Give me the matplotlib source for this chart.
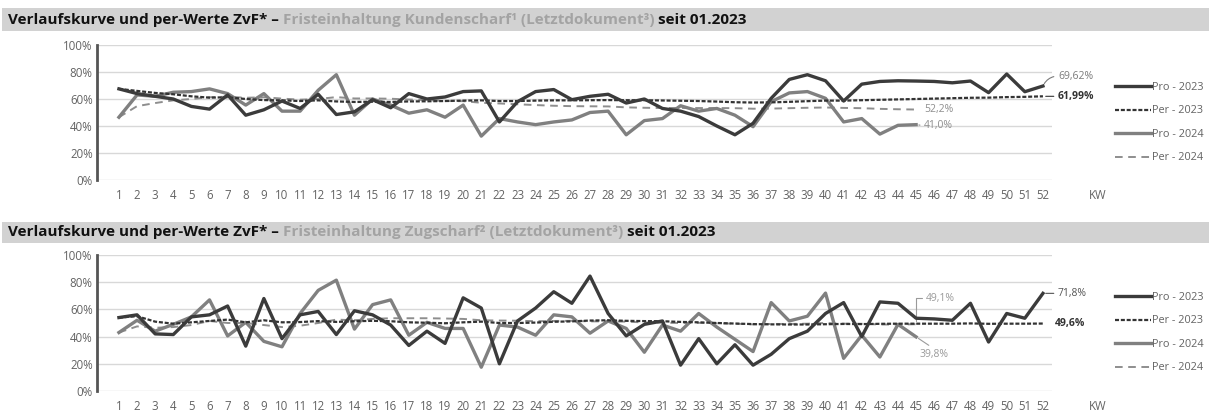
import matplotlib
matplotlib.use('Agg')
import matplotlib.pyplot as plt
from matplotlib import font_manager
from matplotlib.patches import Rectangle

def pick_font(cands):
    for c in cands:
        try:
            font_manager.findfont(font_manager.FontProperties(family=c), fallback_to_default=False)
            return c
        except Exception:
            pass
    return 'DejaVu Sans'

FONT = pick_font(['Open Sans', 'Liberation Sans'])
plt.rcParams['font.family'] = [FONT, 'DejaVu Sans']
plt.rcParams['lines.scale_dashes'] = False

# ---------------- data ----------------
weeks = list(range(1, 53))
week_labels = [str(w) for w in weeks]
weeks_2024 = list(range(1, 46))

# Fristeinhaltung Kundenscharf
pro23_k = [67.5, 64, 62, 60, 54.5, 52.5, 63, 48, 52, 58.5,
           53, 63.5, 48.5, 50.5, 59.5, 53.5, 64, 60, 61.5, 65.5,
           66, 43, 58, 65.5, 67, 59.5, 62, 63.5, 57, 60,
           53, 51, 47, 40, 33.5, 42, 60.5, 74.5, 78, 73.5,
           58.5, 71, 73, 73.5, 73.3, 73, 72, 73.3, 64.7, 78.5,
           65.4, 69.62]
per23_k = [67.5, 66, 64.5, 63.5, 62, 61, 61.3, 60, 59.2, 59,
           58.5, 59, 58.2, 57.8, 58, 57.8, 58.2, 58.3, 58.5, 58.8,
           59, 58.5, 58.5, 58.8, 59, 59, 59.1, 59.2, 59.1, 59.1,
           58.9, 58.7, 58.5, 58.1, 57.6, 57.4, 57.5, 57.9, 58.4, 58.8,
           58.8, 59.1, 59.4, 59.7, 60, 60.3, 60.6, 60.9, 61, 61.4,
           61.6, 61.99]
pro24_k = [46.5, 63, 62, 65, 65.5, 67.5, 64, 55.5, 64, 51,
           51, 66.5, 78, 48, 60, 55.5, 49.5, 52, 46.5, 55.5,
           32.5, 45.5, 43, 41, 43, 44.5, 50, 51, 33.5, 44,
           45.5, 55, 51, 53, 48, 39.5, 58, 64.5, 65.5, 60.5,
           43, 45.5, 34, 40.5, 41.0]
per24_k = [46.5, 54.7, 57, 59, 60, 61.3, 61.7, 60.9, 61.3, 60.3,
           59.5, 60, 61.4, 60.4, 60.4, 60.2, 59.6, 59.2, 58.5, 58.4,
           57.2, 56.7, 56.1, 55.5, 55, 54.7, 54.6, 54.5, 53.8, 53.5,
           53.3, 53.4, 53.3, 53.3, 53.2, 52.8, 52.9, 53.2, 53.5, 53.7,
           53.4, 53.2, 52.7, 52.4, 52.2]

# Fristeinhaltung Zugscharf
pro23_z = [54, 56, 42, 41.5, 54.5, 56, 62.5, 33, 68, 38.5,
           56, 58.5, 41.5, 59, 56, 48.5, 33.5, 44, 35, 68.5,
           61, 20, 51.5, 61, 73, 64.5, 84.5, 57, 40.5, 49,
           51.5, 19, 38.5, 20, 34, 19, 27, 38.5, 44, 57,
           65, 40, 65.5, 64.5, 53.5, 53, 52, 64.5, 36, 57,
           53.5, 71.8]
per23_z = [54, 55, 51, 49.5, 50.5, 51.5, 52.5, 50.5, 52, 50.5,
           50.7, 51.4, 50.8, 51.3, 51.6, 51.3, 50.5, 50.2, 49.8, 50.5,
           51, 50, 50, 50.3, 50.9, 51.2, 51.8, 52, 51.6, 51.4,
           51.3, 50.8, 50.5, 50, 49.6, 49.2, 49, 48.9, 48.9, 49.1,
           49.3, 49.2, 49.4, 49.5, 49.5, 49.5, 49.5, 49.7, 49.4, 49.5,
           49.5, 49.6]
pro24_z = [43, 52, 44, 49, 54.5, 67, 40.5, 50.5, 36.5, 32.5,
           57, 74, 81.5, 45.5, 63.5, 67, 41, 50.5, 46, 46,
           17.5, 48.5, 47, 41, 56, 54.5, 42.5, 51.5, 46, 28.5,
           48.5, 44, 57, 47, 38, 29, 65, 51.5, 55, 72,
           24, 41, 25, 49, 39.8]
per24_z = [43, 47.5, 46.5, 47, 48.5, 51.5, 50, 50, 48.5, 47,
           48, 50, 52.5, 52, 53, 53.5, 53.5, 53.5, 53.3, 53,
           52, 51.8, 51.7, 51.3, 51.5, 51.6, 51.2, 51.2, 51, 50.4,
           50.2, 50, 50.1, 49.8, 49.5, 49, 49.3, 49.3, 49.5, 50,
           49.5, 49.4, 48.9, 48.9, 49.1]

series_labels = ['Pro - 2023', 'Per - 2023', 'Pro - 2024', 'Per - 2024']
y_ticks = [0, 20, 40, 60, 80, 100]
y_ticklabels = ['0%', '20%', '40%', '60%', '80%', '100%']

# ---------------- figure ----------------
W, H = 1209, 412
fig = plt.figure(figsize=(W / 100, H / 100), dpi=100)
fig.patch.set_facecolor('white')

def px_x(x):
    return x / W

def px_y(y):
    return 1 - y / H

C_PRO23 = '#3b3b3b'
C_PER23 = '#333333'
C_PRO24 = '#808080'
C_PER24 = '#8e8e8e'
C_TICK = '#636363'
TICK_FS = 8.3
XPAD = 6.5


def band(y0, y1):
    fig.patches.append(Rectangle((px_x(2), px_y(y1)), 1, (y1 - y0) / H,
                                 transform=fig.transFigure, facecolor='#d2d2d2',
                                 edgecolor='none', zorder=0))


renderer = fig.canvas.get_renderer()


def measure(parts, fs):
    total = 0
    for s, color in parts:
        t = fig.text(0, 0, s, fontsize=fs, fontweight='bold')
        total += t.get_window_extent(renderer=renderer).width
        t.remove()
    return total


def rich_title(y_px, parts, fs):
    x = 8
    for s, color in parts:
        t = fig.text(px_x(x), px_y(y_px), s, color=color, fontsize=fs,
                     fontweight='bold', va='center', ha='left', zorder=2)
        bb = t.get_window_extent(renderer=renderer)
        x += bb.width


def setup_axes(ax):
    ax.set_xlim(-0.21, 52.5)
    ax.set_ylim(0, 100)
    ax.set_yticks(y_ticks)
    ax.set_yticklabels(y_ticklabels)
    ax.set_xticks(weeks)
    ax.set_xticklabels(week_labels)
    ax.tick_params(axis='both', length=0, colors=C_TICK, labelsize=TICK_FS)
    ax.tick_params(axis='x', pad=XPAD)
    ax.tick_params(axis='y', pad=3)
    ax.grid(axis='y', color='#d8d8d8', lw=1.0)
    ax.set_axisbelow(True)
    for s in ['top', 'right', 'bottom']:
        ax.spines[s].set_visible(False)
    ax.spines['left'].set_color('#555555')
    ax.spines['left'].set_linewidth(2.0)
    ax.annotate('KW', xy=(55, 0), xycoords=('data', 'axes fraction'),
                xytext=(0, -XPAD), textcoords='offset points', ha='center',
                va='top', color=C_TICK, fontsize=TICK_FS, annotation_clip=False)


def draw_series(ax, pro23, per23, pro24, per24):
    ax.plot(weeks_2024, per24, color=C_PER24, lw=1.4, dashes=(5.5, 4.0),
            label=series_labels[3], zorder=2)
    ax.plot(weeks_2024, pro24, color=C_PRO24, lw=2.4, label=series_labels[2],
            zorder=3, solid_joinstyle='round')
    ax.plot(weeks, per23, color=C_PER23, lw=1.6, dashes=(2.9, 1.3),
            label=series_labels[1], zorder=4)
    ax.plot(weeks, pro23, color=C_PRO23, lw=2.4, label=series_labels[0],
            zorder=5, solid_joinstyle='round')


def add_legend(ax, top_px):
    handles = ax.get_lines()[::-1]
    leg = fig.legend(handles=handles, labels=series_labels,
                     loc='upper left', bbox_to_anchor=(px_x(1115), px_y(top_px)),
                     frameon=False, fontsize=7.8, handlelength=3.3,
                     handletextpad=0.15, labelspacing=1.15, borderpad=0,
                     borderaxespad=0)
    for t in leg.get_texts():
        t.set_color(C_TICK)


def label(ax, xy, text, offset, color, weight='normal', ha='left', va='center',
          leader=True, conn='arc3', relpos=(0, 0.5)):
    ap = None
    if leader:
        ap = dict(arrowstyle='-', color=color, lw=0.8, shrinkA=1, shrinkB=2,
                  connectionstyle=conn, relpos=relpos)
    ax.annotate(text, xy=xy, xytext=offset, textcoords='offset pixels',
                fontsize=7.5, color=color, fontweight=weight, ha=ha, va=va,
                arrowprops=ap, annotation_clip=False)


title_top = [('Verlaufskurve und per-Werte ZvF* \u2013 ', '#111111'),
             ('Fristeinhaltung Kundenscharf\u00b9 (Letztdokument\u00b3)', '#a3a3a3'),
             (' seit 01.2023', '#111111')]
title_bot = [('Verlaufskurve und per-Werte ZvF* \u2013 ', '#111111'),
             ('Fristeinhaltung Zugscharf\u00b2 (Letztdokument\u00b3)', '#a3a3a3'),
             (' seit 01.2023', '#111111')]
w10 = measure(title_top, 10)
title_fs = 10 * (748 - 8) / w10

# ---------------- top chart ----------------
band(8, 31)
rich_title(20, title_top, title_fs)

ax1 = fig.add_axes([px_x(97), px_y(180), (1052 - 97) / W, 135 / H])
setup_axes(ax1)
draw_series(ax1, pro23_k, per23_k, pro24_k, per24_k)
add_legend(ax1, 82)
label(ax1, (52, pro23_k[-1]), '69,62%', (15, 10), '#7a7a7a', conn='arc3,rad=0.3')
label(ax1, (52, per23_k[-1]), '61,99%', (15, 0), '#333333', weight='bold')
label(ax1, (45, per24_k[-1]), '52,2%', (8, 0), '#8e8e8e', leader=False)
label(ax1, (45, pro24_k[-1]), '41,0%', (8, -1), '#8e8e8e')

# ---------------- bottom chart ----------------
band(222, 243)
rich_title(232, title_bot, title_fs)

ax2 = fig.add_axes([px_x(97), px_y(391), (1052 - 97) / W, 136 / H])
setup_axes(ax2)
draw_series(ax2, pro23_z, per23_z, pro24_z, per24_z)
add_legend(ax2, 292)
label(ax2, (52, pro23_z[-1]), '71,8%', (15, 0), '#555555')
label(ax2, (52, per23_z[-1]), '49,6%', (12, 0), '#333333', weight='bold', leader=False)
label(ax2, (45, per24_z[-1]), '49,1%', (10, 26), '#9a9a9a',
      conn='angle,angleA=0,angleB=90,rad=0')
label(ax2, (45, pro24_z[-1]), '39,8%', (18, -12), '#9a9a9a', ha='center', va='top',
      relpos=(0.5, 1.0))

fig.savefig('out.png', dpi=100, facecolor='white')
